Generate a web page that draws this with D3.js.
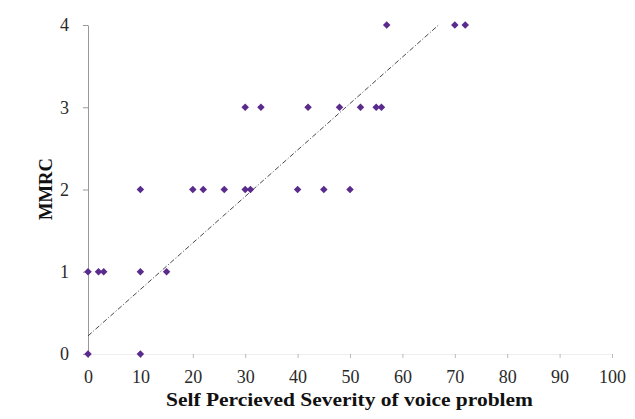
<!DOCTYPE html>
<html>
<head>
<meta charset="utf-8">
<script src="https://cdn.jsdelivr.net/npm/d3@7"></script>
<style>
  body { margin: 0; background: #fff; }
  svg { display: block; }
  text { font-family: "Liberation Serif", "Times New Roman", serif; }
</style>
</head>
<body>
<svg id="chart" width="635" height="419"></svg>
<script>
// severity score (x) and MMRC grade (y)
const severity = [0, 10, 0, 2, 3, 10, 15, 10, 20, 22, 26, 30, 31, 40, 45, 50, 30, 33, 42, 48, 52, 55, 56, 57, 70, 72];
const mmrc     = [0, 0, 1, 1, 1, 1, 1, 2, 2, 2, 2, 2, 2, 2, 2, 2, 3, 3, 3, 3, 3, 3, 3, 4, 4, 4];
const xTicks = [0, 10, 20, 30, 40, 50, 60, 70, 80, 90, 100];
const yTicks = [0, 1, 2, 3, 4];
// trend line as drawn (intercept, slope)
const trendIntercept = 0.22;
const trendSlope = 0.0565;

const svg = d3.select("#chart");
const x = d3.scaleLinear().domain([0, 100]).range([88, 612]);
const y = d3.scaleLinear().domain([0, 4]).range([354, 25]);

// x axis: faint line, small ticks below
const xAxis = svg.append("g")
  .attr("transform", `translate(0,${y(0)})`)
  .call(d3.axisBottom(x).tickValues(xTicks).tickFormat(d3.format("d"))
    .tickSize(4).tickPadding(12).tickSizeOuter(0))
  .attr("font-family", "Liberation Serif, serif")
  .attr("font-size", 18);
xAxis.select(".domain").attr("stroke", "#eee");
xAxis.selectAll(".tick line").attr("stroke", "#bbb");
xAxis.selectAll("text").attr("fill", "#2a2a2a");

// y axis
const yAxis = svg.append("g")
  .attr("transform", `translate(${x(0)},0)`)
  .call(d3.axisLeft(y).tickValues(yTicks).tickFormat(d3.format("d"))
    .tickSize(5).tickPadding(14).tickSizeOuter(0))
  .attr("font-family", "Liberation Serif, serif")
  .attr("font-size", 18);
yAxis.select(".domain").attr("stroke", "#999");
yAxis.selectAll(".tick line").attr("stroke", "#999");
yAxis.selectAll("text").attr("fill", "#2a2a2a");

// trend line, clipped at the top of the axis
const xEnd = (4 - trendIntercept) / trendSlope;
svg.append("line")
  .attr("x1", x(0)).attr("y1", y(trendIntercept))
  .attr("x2", x(xEnd)).attr("y2", y(trendIntercept + trendSlope * xEnd))
  .attr("stroke", "#333")
  .attr("stroke-width", 0.9)
  .attr("stroke-dasharray", "5,2,1,2");

// points (Excel-style diamonds)
const points = severity.map((s, i) => ({ s, m: mmrc[i] }));
svg.selectAll("path.pt")
  .data(points)
  .enter()
  .append("path")
  .attr("class", "pt")
  .attr("transform", (d) => `translate(${x(d.s)},${y(d.m)}) rotate(45)`)
  .attr("d", d3.symbol().type(d3.symbolSquare).size(28))
  .attr("fill", "#5a2a8c");

// axis titles
svg.append("text")
  .attr("x", 166)
  .attr("y", 406)
  .attr("textLength", 367)
  .attr("lengthAdjust", "spacingAndGlyphs")
  .attr("font-size", 19)
  .attr("font-weight", "bold")
  .attr("fill", "#111")
  .text("Self Percieved Severity of voice problem");

svg.append("text")
  .attr("transform", `translate(52,220) rotate(-90)`)
  .attr("textLength", 62)
  .attr("lengthAdjust", "spacingAndGlyphs")
  .attr("font-size", 18)
  .attr("font-weight", "bold")
  .attr("fill", "#111")
  .text("MMRC");
</script>
</body>
</html>
